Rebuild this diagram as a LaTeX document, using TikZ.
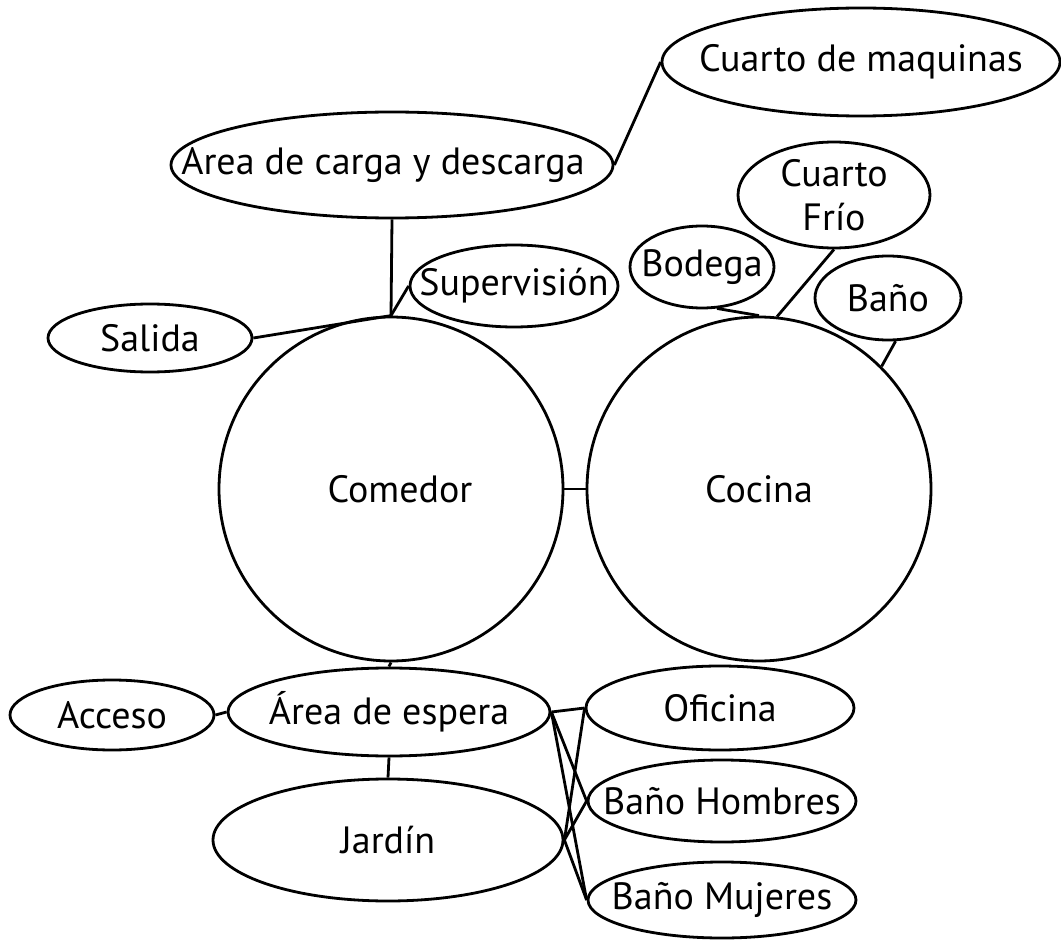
\documentclass[tikz,border=0pt]{standalone}
\usepackage{fontspec}
\setmainfont{PT Sans}
\usetikzlibrary{shapes.geometric}
\tikzset{
  room/.style={draw, ellipse, line width=2.8pt, inner sep=0pt},
  lbl/.style={font=\fontsize{38}{44}\selectfont, align=center, inner sep=0pt},
  txt/.style={label={[lbl]center:{#1}}},
  link/.style={line width=2.8pt}
}
\begin{document}
\begin{tikzpicture}[x=1pt,y=-1pt]
\useasboundingbox (0,0) rectangle (1061,944);
% nodes
\node[room, minimum width=398pt, minimum height=108pt, txt={Cuarto de maquinas}] (maq) at (861,62) {};
\node[room, minimum width=442pt, minimum height=106pt, txt={\hspace*{-18pt}Area de carga y descarga}] (carga) at (392,165) {};
\node[room, minimum width=192pt, minimum height=106pt, txt={Cuarto\\Frío}] (frio) at (834,195) {};
\node[room, minimum width=144pt, minimum height=82pt, txt={Bodega}] (bodega) at (702,267) {};
\node[room, minimum width=146pt, minimum height=84pt, txt={Baño}] (bano) at (888,298) {};
\node[room, minimum width=208pt, minimum height=82pt, txt={Supervisión}] (super) at (514,286) {};
\node[room, minimum width=204pt, minimum height=68pt, txt={Salida}] (salida) at (150,338) {};
\node[room, circle, minimum size=344pt, txt={\hspace*{18pt}Comedor}] (comedor) at (391,489) {};
\node[room, circle, minimum size=344pt, txt={Cocina}] (cocina) at (759,489) {};
\node[room, minimum width=322pt, minimum height=88pt, txt={Área de espera}] (espera) at (389,712) {};
\node[room, minimum width=204pt, minimum height=70pt, txt={Acceso}] (acceso) at (112,715) {};
\node[room, minimum width=350pt, minimum height=122pt, txt={Jardín}] (jardin) at (388,840) {};
\node[room, minimum width=268pt, minimum height=84pt, txt={Oficina}] (oficina) at (720,708) {};
\node[room, minimum width=268pt, minimum height=82pt, txt={Baño Hombres}] (bh) at (722,801) {};
\node[room, minimum width=268pt, minimum height=76pt, txt={Baño Mujeres}] (bm) at (722,900) {};
% connectors
\draw[link] (carga.east) -- (maq.west);
\draw[link] (carga.south) -- (comedor.north);
\draw[link] (salida.east) -- (comedor.north);
\draw[link] (super.west) -- (comedor.north);
\draw[link] (bodega.-70) -- (cocina.north);
\draw[link] (frio.south) -- (cocina.84);
\draw[link] (bano.-80) -- (cocina.45);
\draw[link] (comedor.east) -- (cocina.west);
\draw[link] (comedor.south) -- (espera.north);
\draw[link] (acceso.east) -- (espera.west);
\draw[link] (espera.south) -- (jardin.north);
\draw[link] (espera.east) -- (oficina.west);
\draw[link] (espera.east) -- (bh.west);
\draw[link] (espera.east) -- (bm.west);
\draw[link] (jardin.east) -- (oficina.west);
\draw[link] (jardin.east) -- (bh.west);
\draw[link] (jardin.east) -- (bm.west);
\end{tikzpicture}
\end{document}
